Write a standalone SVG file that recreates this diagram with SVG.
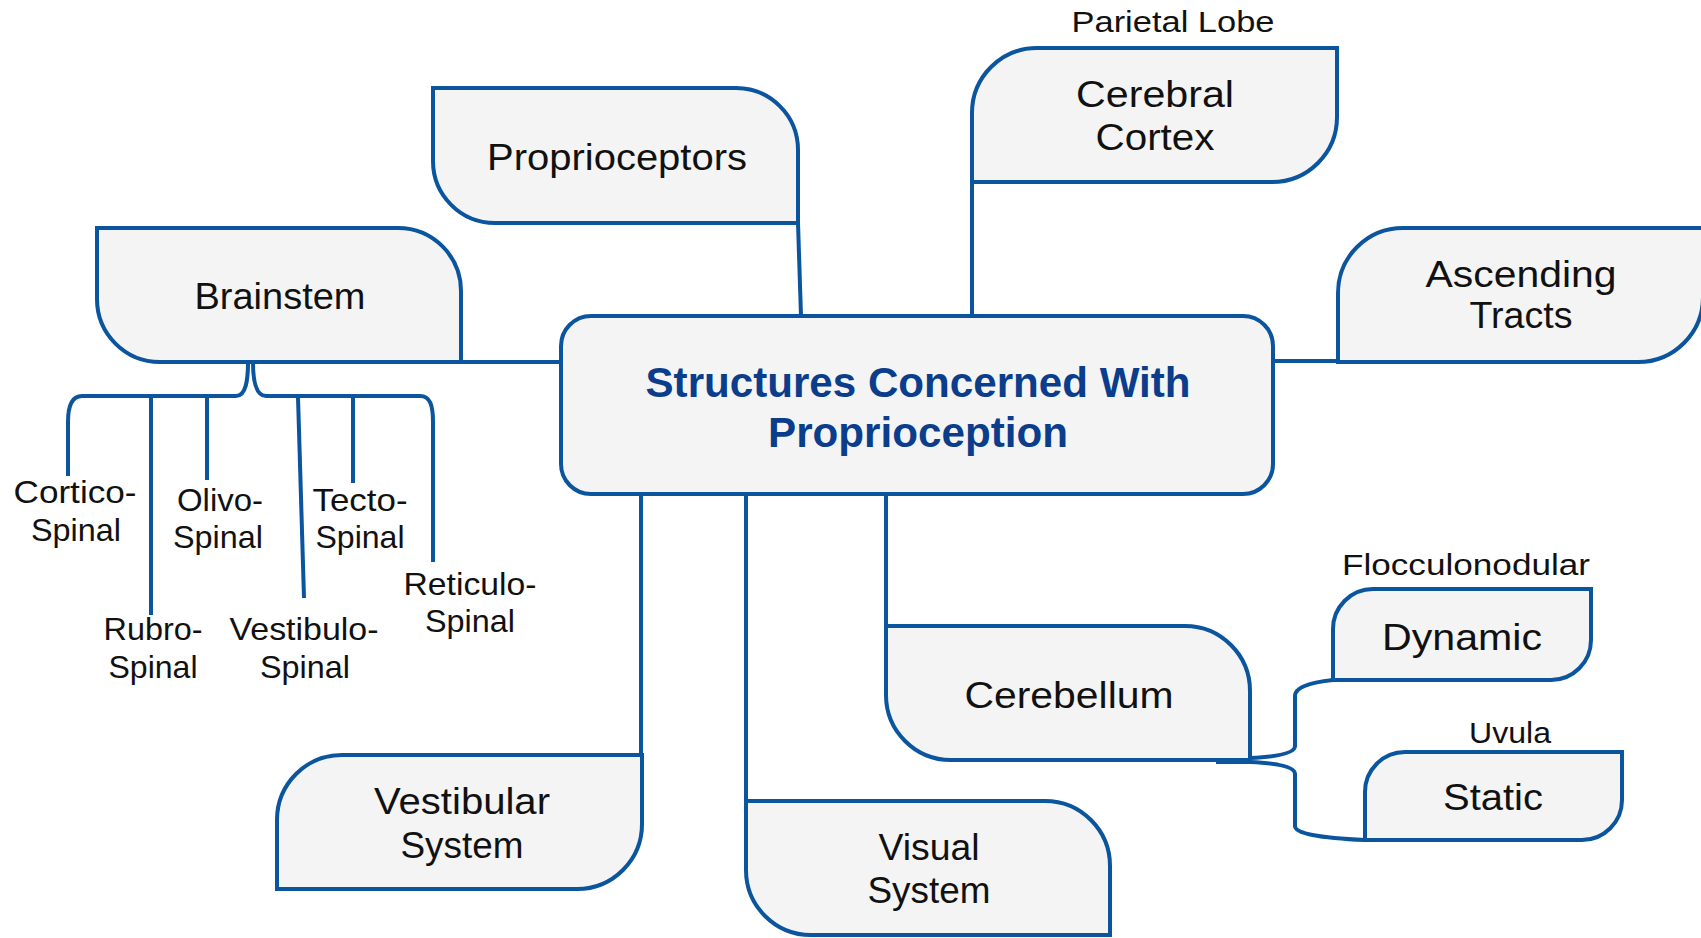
<svg xmlns="http://www.w3.org/2000/svg" width="1701" height="938" viewBox="0 0 1701 938">
<style>
.box{fill:#f4f4f4;stroke:#0b549e;stroke-width:4;stroke-linejoin:miter}
.ln{fill:none;stroke:#0b549e;stroke-width:4}
text{font-family:"Liberation Sans",Arial,sans-serif;fill:#111;text-anchor:middle}
.lg{font-size:36px}
.md{font-size:32px}
.sm{font-size:29px}
.title{font-size:42px;font-weight:bold;fill:#0a3d8c}
</style>
<rect width="1701" height="938" fill="#ffffff"/>
<g id="connectors">
<path class="ln" d="M798,223 L801,316"/>
<path class="ln" d="M972,182 V316"/>
<path class="ln" d="M461,362 H561"/>
<path class="ln" d="M1273,361 H1338"/>
<path class="ln" d="M641,494 V755"/>
<path class="ln" d="M746,494 V801"/>
<path class="ln" d="M886,494 V626"/>
<path class="ln" d="M248,362 C248,380 246,396 236,396 H82 C72,396 68,405 68,422 V476"/>
<path class="ln" d="M253,362 C253,380 256,396 266,396 H420 C430,396 433,405 433,422 V562"/>
<path class="ln" d="M151,396 V615"/>
<path class="ln" d="M207,396 V480"/>
<path class="ln" d="M298,397 L304,598"/>
<path class="ln" d="M353,396 V483"/>
<path class="ln" d="M1250,758 Q1295,756 1295,746 V696 Q1295,684 1333,680"/>
<path class="ln" d="M1216,762 H1250 Q1295,764 1295,774 V826 Q1295,837 1365,840"/>
</g>
<g id="center">
<rect class="box" x="561" y="316" width="712" height="178" rx="30" ry="30"/>
<text class="title" x="918" y="397" textLength="545" lengthAdjust="spacingAndGlyphs">Structures Concerned With</text>
<text class="title" x="918" y="447" textLength="300" lengthAdjust="spacingAndGlyphs">Proprioception</text>
</g>
<g id="proprioceptors">
<path class="box" d="M433,88 H736 A62,62 0 0 1 798,150 V223 H495 A62,62 0 0 1 433,161 Z"/>
<text class="lg" x="617" y="170" textLength="260" lengthAdjust="spacingAndGlyphs">Proprioceptors</text>
</g>
<g id="brainstem">
<path class="box" d="M97,228 H398 A63,63 0 0 1 461,291 V362 H160 A63,63 0 0 1 97,299 Z"/>
<text class="lg" x="280" y="309" textLength="171" lengthAdjust="spacingAndGlyphs">Brainstem</text>
</g>
<g id="cerebral-cortex">
<text class="sm" x="1173" y="32" textLength="203" lengthAdjust="spacingAndGlyphs">Parietal Lobe</text>
<path class="box" d="M1037,48 H1337 V117 A65,65 0 0 1 1272,182 H972 V113 A65,65 0 0 1 1037,48 Z"/>
<text class="lg" x="1155" y="107" textLength="158" lengthAdjust="spacingAndGlyphs">Cerebral</text>
<text class="lg" x="1155" y="150" textLength="119" lengthAdjust="spacingAndGlyphs">Cortex</text>
</g>
<g id="ascending-tracts">
<path class="box" d="M1403,228 H1703 V297 A65,65 0 0 1 1638,362 H1338 V293 A65,65 0 0 1 1403,228 Z"/>
<text class="lg" x="1521" y="287" textLength="191" lengthAdjust="spacingAndGlyphs">Ascending</text>
<text class="lg" x="1521" y="328" textLength="103" lengthAdjust="spacingAndGlyphs">Tracts</text>
</g>
<g id="cerebellum">
<path class="box" d="M886,626 H1185 A65,65 0 0 1 1250,691 V760 H951 A65,65 0 0 1 886,695 Z"/>
<text class="lg" x="1069" y="708" textLength="209" lengthAdjust="spacingAndGlyphs">Cerebellum</text>
</g>
<g id="dynamic">
<text class="sm" x="1466" y="575" textLength="248" lengthAdjust="spacingAndGlyphs">Flocculonodular</text>
<path class="box" d="M1373,589 H1591 V640 A40,40 0 0 1 1551,680 H1333 V629 A40,40 0 0 1 1373,589 Z"/>
<text class="lg" x="1462" y="650" textLength="160" lengthAdjust="spacingAndGlyphs">Dynamic</text>
</g>
<g id="static">
<text class="sm" x="1510" y="743" textLength="82" lengthAdjust="spacingAndGlyphs">Uvula</text>
<path class="box" d="M1405,752 H1622 V800 A40,40 0 0 1 1582,840 H1365 V792 A40,40 0 0 1 1405,752 Z"/>
<text class="lg" x="1493" y="810" textLength="100" lengthAdjust="spacingAndGlyphs">Static</text>
</g>
<g id="vestibular-system">
<path class="box" d="M342,755 H642 V824 A65,65 0 0 1 577,889 H277 V820 A65,65 0 0 1 342,755 Z"/>
<text class="lg" x="462" y="814" textLength="176" lengthAdjust="spacingAndGlyphs">Vestibular</text>
<text class="lg" x="462" y="858" textLength="123" lengthAdjust="spacingAndGlyphs">System</text>
</g>
<g id="visual-system">
<path class="box" d="M746,801 H1045 A65,65 0 0 1 1110,866 V935 H811 A65,65 0 0 1 746,870 Z"/>
<text class="lg" x="929" y="860" textLength="101" lengthAdjust="spacingAndGlyphs">Visual</text>
<text class="lg" x="929" y="903" textLength="123" lengthAdjust="spacingAndGlyphs">System</text>
</g>
<g id="cortico-spinal">
<text class="md" x="75" y="503" textLength="123" lengthAdjust="spacingAndGlyphs">Cortico-</text>
<text class="md" x="76" y="541" textLength="90" lengthAdjust="spacingAndGlyphs">Spinal</text>
</g>
<g id="olivo-spinal">
<text class="md" x="220" y="511" textLength="86" lengthAdjust="spacingAndGlyphs">Olivo-</text>
<text class="md" x="218" y="548" textLength="90" lengthAdjust="spacingAndGlyphs">Spinal</text>
</g>
<g id="tecto-spinal">
<text class="md" x="360" y="511" textLength="95" lengthAdjust="spacingAndGlyphs">Tecto-</text>
<text class="md" x="360" y="548" textLength="89" lengthAdjust="spacingAndGlyphs">Spinal</text>
</g>
<g id="rubro-spinal">
<text class="md" x="153" y="640" textLength="99" lengthAdjust="spacingAndGlyphs">Rubro-</text>
<text class="md" x="153" y="678" textLength="89" lengthAdjust="spacingAndGlyphs">Spinal</text>
</g>
<g id="vestibulo-spinal">
<text class="md" x="304" y="640" textLength="149" lengthAdjust="spacingAndGlyphs">Vestibulo-</text>
<text class="md" x="305" y="678" textLength="90" lengthAdjust="spacingAndGlyphs">Spinal</text>
</g>
<g id="reticulo-spinal">
<text class="md" x="470" y="595" textLength="133" lengthAdjust="spacingAndGlyphs">Reticulo-</text>
<text class="md" x="470" y="632" textLength="90" lengthAdjust="spacingAndGlyphs">Spinal</text>
</g>
</svg>
